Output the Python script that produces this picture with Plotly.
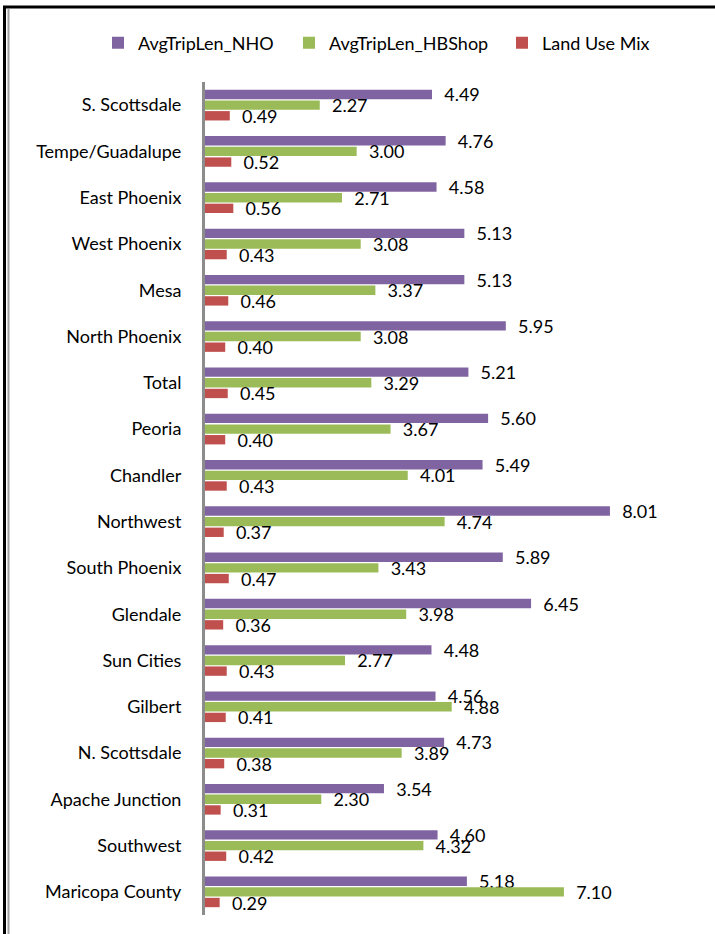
import plotly.graph_objects as go

categories = ["S. Scottsdale", "Tempe/Guadalupe", "East Phoenix", "West Phoenix", "Mesa",
              "North Phoenix", "Total", "Peoria", "Chandler", "Northwest", "South Phoenix",
              "Glendale", "Sun Cities", "Gilbert", "N. Scottsdale", "Apache Junction",
              "Southwest", "Maricopa County"]
avg_nho = [4.49, 4.76, 4.58, 5.13, 5.13, 5.95, 5.21, 5.60, 5.49, 8.01, 5.89, 6.45, 4.48,
           4.56, 4.73, 3.54, 4.60, 5.18]
avg_hbshop = [2.27, 3.00, 2.71, 3.08, 3.37, 3.08, 3.29, 3.67, 4.01, 4.74, 3.43, 3.98, 2.77,
              4.88, 3.89, 2.30, 4.32, 7.10]
land_use_mix = [0.49, 0.52, 0.56, 0.43, 0.46, 0.40, 0.45, 0.40, 0.43, 0.37, 0.47, 0.36, 0.43,
                0.41, 0.38, 0.31, 0.42, 0.29]

series = [("AvgTripLen_NHO", avg_nho, "#8064A2", 146),
          ("AvgTripLen_HBShop", avg_hbshop, "#9BBB59", 168),
          ("Land Use Mix", land_use_mix, "#C0504D", None)]

FONT = "Lato"
W, H = 715, 934
L, R, T, B = 205, 55, 82, 19

fig = go.Figure()
for name, vals, col, lw in series:
    fig.add_trace(go.Bar(
        y=categories, x=vals, name=name, orientation="h",
        marker=dict(color=col, line=dict(width=0)),
        texttemplate="\u00a0\u00a0%{x:.2f}", textposition="outside",
        constraintext="none", cliponaxis=False,
        textfont=dict(family=FONT, size=18, color="#000000"),
        hoverinfo="skip",
        legendwidth=lw,
    ))

pw = W - L - R
ph = H - T - B
def px(x):
    return (x - L) / pw
def py(y):
    return (H - B - y) / ph

shapes = [
    dict(type="line", xref="paper", yref="paper", x0=px(3), x1=px(716), y0=py(7), y1=py(7),
         line=dict(color="#000000", width=3)),
    dict(type="line", xref="paper", yref="paper", x0=px(4.5), x1=px(4.5), y0=py(6), y1=py(935),
         line=dict(color="#000000", width=3)),
    dict(type="line", xref="paper", yref="paper", x0=px(8.5), x1=px(8.5), y0=py(9), y1=py(935),
         line=dict(color="#A0A0A0", width=2)),
]

fig.update_layout(
    width=W, height=H,
    margin=dict(l=L, r=R, t=T, b=B, pad=0, autoexpand=False),
    paper_bgcolor="white", plot_bgcolor="white",
    barmode="group", bargap=0.31, bargroupgap=0.12,
    font=dict(family=FONT, size=18, color="#000000"),
    showlegend=True,
    legend=dict(orientation="h", xref="paper", yref="paper",
                x=px(98), xanchor="left", y=py(43), yanchor="middle",
                bgcolor="rgba(0,0,0,0)",
                font=dict(family=FONT, size=18), itemwidth=30, traceorder="normal"),
    xaxis=dict(range=[0, 9], visible=False, showgrid=False, zeroline=False),
    yaxis=dict(autorange="reversed", showgrid=False, zeroline=False, automargin=False,
               showline=True, linecolor="#8C8C8C", linewidth=3,
               ticks="", ticklabelstandoff=17,
               tickfont=dict(family=FONT, size=18, color="#000000")),
    shapes=shapes,
)

fig.write_html("out.html", config={"displayModeBar": False},
               post_script="document.body.style.margin='0';document.body.style.padding='0';")
